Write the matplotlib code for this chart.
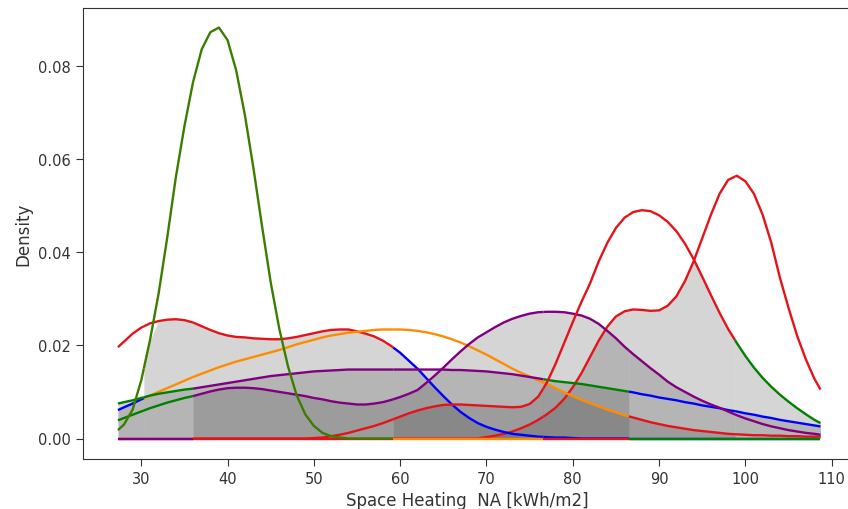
import numpy as np
import matplotlib
matplotlib.use("Agg")
import matplotlib.pyplot as plt

x = np.r_[27.3, np.arange(28, 109), 108.7]

# density curves, one value per x position
tall_green = [0.0018, 0.0030, 0.0062, 0.0125, 0.0210, 0.0310, 0.0430, 0.0560, 0.0670, 0.0765,
              0.0835, 0.0872, 0.0882, 0.0855, 0.0790, 0.0695, 0.0580, 0.0455, 0.0335, 0.0235,
              0.0155, 0.0093, 0.0052, 0.0027, 0.0012, 0.0005, 0.0002] + [0.0] * 56

red_blue = [0.0196, 0.0208, 0.0225, 0.0238, 0.0247, 0.0252, 0.0255, 0.0256, 0.0254, 0.0249,
            0.0241, 0.0233, 0.0226, 0.0221, 0.0218, 0.0217, 0.0215, 0.0214, 0.0213, 0.0213,
            0.0215, 0.0218, 0.0222, 0.0226, 0.0230, 0.0233, 0.0234, 0.0234, 0.0230, 0.0225,
            0.0219, 0.0210, 0.0198, 0.0184, 0.0167, 0.0150, 0.0130, 0.0110, 0.0091, 0.0073,
            0.0057, 0.0044, 0.0033, 0.0025, 0.0019, 0.0014, 0.0010, 0.0008, 0.0006, 0.0004,
            0.0003, 0.0002, 0.0002, 0.0001] + [0.0] * 29

orange = [0.0061, 0.0067, 0.0075, 0.0084, 0.0092, 0.0100, 0.0108, 0.0116, 0.0124, 0.0132,
          0.0139, 0.0146, 0.0153, 0.0159, 0.0165, 0.0170, 0.0175, 0.0180, 0.0185, 0.0190,
          0.0196, 0.0202, 0.0207, 0.0212, 0.0217, 0.0221, 0.0224, 0.0227, 0.0229, 0.0231,
          0.0233, 0.0234, 0.0234, 0.0234, 0.0233, 0.0231, 0.0228, 0.0224, 0.0219, 0.0213,
          0.0206, 0.0198, 0.0189, 0.0180, 0.0170, 0.0160, 0.0150, 0.0141, 0.0133, 0.0125,
          0.0117, 0.0108, 0.0099, 0.0091, 0.0083, 0.0076, 0.0069, 0.0062, 0.0056, 0.0050,
          0.0045, 0.0040, 0.0035, 0.0031, 0.0027, 0.0024, 0.0021, 0.0018, 0.0016, 0.0014,
          0.0012, 0.0010, 0.0009, 0.0008, 0.0007, 0.0007, 0.0006, 0.0006, 0.0005, 0.0005,
          0.0004, 0.0004, 0.0004]

flat = [0.0075, 0.0078, 0.0082, 0.0087, 0.0092, 0.0096, 0.0099, 0.0102, 0.0105, 0.0107,
        0.0110, 0.0113, 0.0116, 0.0119, 0.0122, 0.0125, 0.0128, 0.0131, 0.0134, 0.0136,
        0.0138, 0.0140, 0.0142, 0.0144, 0.0145, 0.0146, 0.0147, 0.0148, 0.0148, 0.0148,
        0.0148, 0.0148, 0.0148, 0.0148, 0.0148, 0.0148, 0.0148, 0.0148, 0.0148, 0.0147,
        0.0147, 0.0146, 0.0145, 0.0144, 0.0142, 0.0140, 0.0138, 0.0135, 0.0132, 0.0129,
        0.0126, 0.0123, 0.0121, 0.0119, 0.0117, 0.0114, 0.0111, 0.0108, 0.0105, 0.0102,
        0.0099, 0.0095, 0.0092, 0.0088, 0.0085, 0.0082, 0.0078, 0.0075, 0.0071, 0.0068,
        0.0065, 0.0061, 0.0058, 0.0054, 0.0051, 0.0047, 0.0044, 0.0040, 0.0037, 0.0034,
        0.0031, 0.0028, 0.0026]

wavy = [0.0039, 0.0044, 0.0051, 0.0058, 0.0065, 0.0071, 0.0077, 0.0082, 0.0087, 0.0091,
        0.0096, 0.0101, 0.0105, 0.0108, 0.0109, 0.0109, 0.0108, 0.0106, 0.0103, 0.0100,
        0.0097, 0.0094, 0.0091, 0.0087, 0.0084, 0.0080, 0.0077, 0.0075, 0.0073, 0.0073,
        0.0075, 0.0078, 0.0083, 0.0089, 0.0096, 0.0104, 0.0119, 0.0135, 0.0152, 0.0170,
        0.0187, 0.0203, 0.0217, 0.0228, 0.0239, 0.0249, 0.0257, 0.0263, 0.0268, 0.0271,
        0.0272, 0.0272, 0.0271, 0.0268, 0.0264, 0.0257, 0.0246, 0.0231, 0.0215, 0.0197,
        0.0181, 0.0166, 0.0151, 0.0137, 0.0122, 0.0110, 0.0100, 0.0090, 0.0081, 0.0073,
        0.0066, 0.0058, 0.0050, 0.0043, 0.0037, 0.0031, 0.0026, 0.0022, 0.0018, 0.0015,
        0.0012, 0.0010, 0.0008]

red_bump = [0.0] * 23 + [
    0.0001, 0.0002, 0.0005, 0.0008, 0.0012, 0.0017, 0.0022, 0.0027, 0.0033, 0.0040,
    0.0047, 0.0054, 0.0060, 0.0065, 0.0069, 0.0072, 0.0073, 0.0073, 0.0072, 0.0071,
    0.0070, 0.0069, 0.0068, 0.0067, 0.0068, 0.0074, 0.0090, 0.0120, 0.0160, 0.0205,
    0.0250, 0.0293, 0.0333, 0.0380, 0.0420, 0.0452, 0.0474, 0.0486, 0.0490, 0.0488,
    0.0479, 0.0465, 0.0445, 0.0418, 0.0385, 0.0347, 0.0308, 0.0270, 0.0235, 0.0205,
    0.0177, 0.0152, 0.0130, 0.0111, 0.0094, 0.0079, 0.0065, 0.0052, 0.0040, 0.0033]

red_peak = [0.0] * 43 + [
    0.0003, 0.0006, 0.0010, 0.0015, 0.0022, 0.0030, 0.0040, 0.0052, 0.0066, 0.0085,
    0.0110, 0.0140, 0.0175, 0.0210, 0.0240, 0.0262, 0.0273, 0.0277, 0.0276, 0.0274,
    0.0275, 0.0285, 0.0305, 0.0338, 0.0380, 0.0430, 0.0480, 0.0525, 0.0555, 0.0564,
    0.0552, 0.0525, 0.0480, 0.0420, 0.0345, 0.0280, 0.0220, 0.0170, 0.0128, 0.0105]

# x intervals where the line colours change
bounds = [27.3, 30.3, 36.0, 59.2, 76.6, 86.5, 98.8, 108.7]

RED = "#e4131a"
curves = {
    "red_peak": (red_peak, [RED] * 7),
    "red_blue": (red_blue, [RED, RED, RED, "blue", "blue", "blue", "blue"]),
    "orange": (orange, ["blue", "darkorange", "darkorange", "darkorange", "darkorange", RED, RED]),
    "flat": (flat, ["green", "green", "purple", "purple", "green", "blue", "blue"]),
    "wavy": (wavy, ["green", "green", "purple", "purple", "purple", "purple", "purple"]),
    "red_bump": (red_bump, ["purple", "purple", RED, RED, RED, RED, "green"]),
    "tall_green": (tall_green, ["#3a7d00", "#3a7d00", "#3a7d00", "darkorange", RED, "green", "green"]),
}

# grey overlap shading: (interval, curves whose minimum bounds the fill)
fills = [
    (0, ["flat"]), (0, ["orange"]),
    (1, ["tall_green", "red_blue"]), (1, ["flat"]),
    (2, ["red_blue"]), (2, ["flat"]), (2, ["wavy"]),
    (3, ["red_blue"]), (3, ["flat"]), (3, ["wavy"]), (3, ["red_bump"]), (3, ["red_peak"]),
    (4, ["wavy"]), (4, ["red_peak"]), (4, ["flat"]), (4, ["orange"]),
    (5, ["red_bump", "red_peak"]), (5, ["wavy"]), (5, ["orange"]),
    (6, ["red_bump", "red_peak"]), (6, ["flat"]),
]


def segment(y, a, b):
    y = np.asarray(y)
    m = (x > a) & (x < b)
    xs = np.r_[a, x[m], b]
    ys = np.r_[np.interp(a, x, y), y[m], np.interp(b, x, y)]
    return xs, ys


plt.rcParams['font.family'] = 'DejaVu Sans'
fig = plt.figure(figsize=(8.48, 5.10), dpi=100)
ax = fig.add_axes([83 / 848, 1 - 460 / 510, 769 / 848, 451 / 510])

for i, names in fills:
    top = np.min([np.asarray(curves[n][0]) for n in names], axis=0)
    xs, ys = segment(top, bounds[i], bounds[i + 1])
    ax.fill_between(xs, 0, ys, color="#444444", alpha=0.22, lw=0)

for name, (y, cols) in curves.items():
    for i, c in enumerate(cols):
        xs, ys = segment(y, bounds[i], bounds[i + 1])
        ax.plot(xs, ys, color=c, lw=1.7, solid_capstyle="butt")

ax.set_xlim(23.25, 112.35)
ax.set_ylim(-0.0044, 0.0924)
ax.set_xticks(np.arange(30, 111, 10))
ax.set_yticks([0.0, 0.02, 0.04, 0.06, 0.08])
ax.set_yticklabels(["0.00", "0.02", "0.04", "0.06", "0.08"])
ax.tick_params(labelsize=10.5, colors="#333333", length=5)
ax.set_xlabel("Space Heating  NA [kWh/m2]", fontsize=12, color="#333333")
ax.set_ylabel("Density", fontsize=12, color="#333333")
for s in ax.spines.values():
    s.set_color("#333333")

fig.savefig("out.png", dpi=100)
